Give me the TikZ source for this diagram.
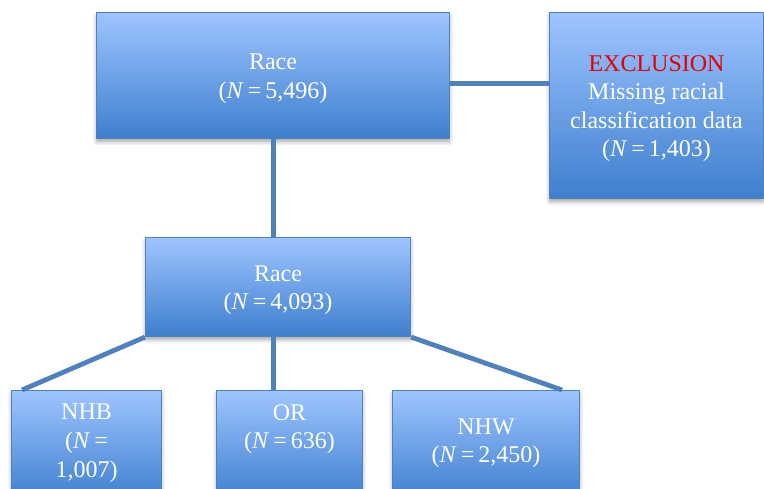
\documentclass[tikz,border=0pt]{standalone}
\usepackage{fontspec}
\setmainfont{Liberation Serif}
\usetikzlibrary{shadows.blur}
\definecolor{boxtop}{RGB}{158,196,255}
\definecolor{boxbot}{RGB}{62,127,206}
\definecolor{edgeblue}{RGB}{79,129,189}
\definecolor{exclred}{RGB}{230,0,0}
\tikzset{
  x=0.75pt, y=-0.75pt,
  flowbox/.style={draw=edgeblue, line width=0.8pt, top color=boxtop, bottom color=boxbot,
    rectangle, inner sep=0pt, anchor=north west,
    blur shadow={shadow xshift=0pt, shadow yshift=-2.5pt, shadow blur steps=6, shadow opacity=35, shadow blur radius=3pt}},
  boxtext/.style={text=white, font=\fontsize{18}{21.4}\selectfont, align=center, inner sep=0pt, yshift=-2.4pt},
  conn/.style={draw=edgeblue, line width=3.6pt}
}
\begin{document}
\begin{tikzpicture}
\useasboundingbox (0,0) rectangle (764,489);
\clip (0,0) rectangle (764,489);

% boxes (sizes in pixels of the final page)
\node[flowbox, minimum width=353*0.75pt, minimum height=126*0.75pt] (top) at (96,12) {};
\node[flowbox, minimum width=214*0.75pt, minimum height=186*0.75pt] (excl) at (549,12) {};
\node[flowbox, minimum width=265*0.75pt, minimum height=99*0.75pt] (mid) at (145,237) {};
\node[flowbox, minimum width=150*0.75pt, minimum height=110*0.75pt] (nhb) at (11,390) {};
\node[flowbox, minimum width=146*0.75pt, minimum height=110*0.75pt] (or) at (216,390) {};
\node[flowbox, minimum width=187*0.75pt, minimum height=110*0.75pt] (nhw) at (392,390) {};

% connectors
\draw[conn] ([yshift=-6pt]top.east) -- ([yshift=-6pt]top.east -| excl.west);
\coordinate (trunk) at ([xshift=0.5pt]top.south);
\draw[conn] (trunk) -- (trunk |- mid.north);
\draw[conn] (mid.south -| trunk) -- (trunk |- or.north);
\draw[conn] (mid.south west) -- ([xshift=8.25pt]nhb.north west);
\draw[conn] (mid.south east) -- ([xshift=-13.5pt]nhw.north east);

% labels
\node[boxtext] at (top.center) {Race\\(\textit{N}\,=\,5,496)};
\node[boxtext] at (excl.center) {\textcolor{exclred}{EXCLUSION}\\Missing racial\\classification data\\(\textit{N}\,=\,1,403)};
\node[boxtext] at (mid.center) {Race\\(\textit{N}\,=\,4,093)};
\node[boxtext] at ([yshift=-50*0.75pt]nhb.north) {NHB\\(\textit{N}\,=\\1,007)};
\node[boxtext] at ([yshift=-36*0.75pt]or.north) {OR\\(\textit{N}\,=\,636)};
\node[boxtext] at ([yshift=-50*0.75pt]nhw.north) {NHW\\(\textit{N}\,=\,2,450)};
\end{tikzpicture}
\end{document}
